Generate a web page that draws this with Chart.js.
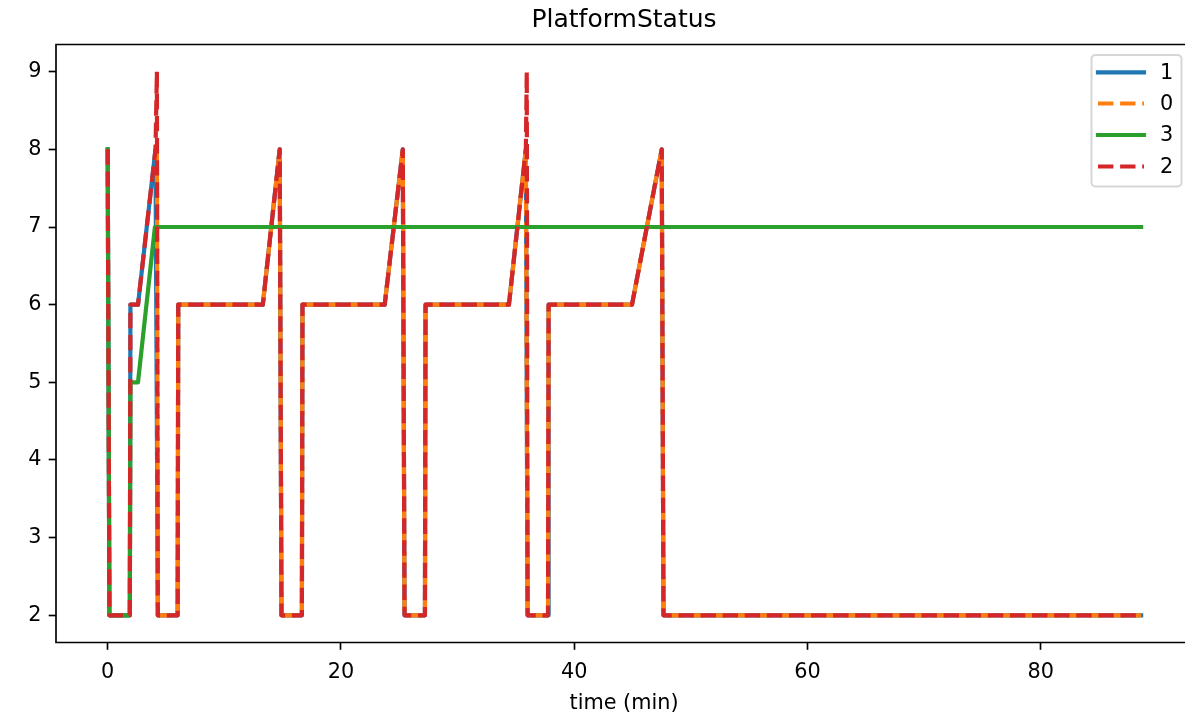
<!DOCTYPE html>
<html>
<head>
<meta charset="utf-8">
<title>PlatformStatus</title>
<script src="https://cdn.jsdelivr.net/npm/chart.js@4.4.1/dist/chart.umd.min.js"></script>
<style>
    html, body { margin: 0; padding: 0; overflow: hidden; background: #fff; }
    #wrap { width: 1185px; height: 718px; }
</style>
</head>
<body>
<div id="wrap"><canvas id="statusChart" width="1185" height="718"></canvas></div>
<script>
/* ================= DATA ================= */
const seriesNames = ['1', '0', '3', '2'];

// platform 1 (blue)
const time1 = [0, 0.15, 1.9, 1.95, 2.6, 4.1, 4.3, 6.0, 6.05, 13.3, 14.75, 14.9, 16.65, 16.7, 23.75, 25.3, 25.45, 27.2, 27.25, 34.4, 35.85, 36.0, 37.75, 37.8, 44.95, 47.5, 47.65, 88.6];
const status1 = [8, 2, 2, 6, 6, 8, 2, 2, 6, 6, 8, 2, 2, 6, 6, 8, 2, 2, 6, 6, 8, 2, 2, 6, 6, 8, 2, 2];

// platform 0 (orange)
const time0 = [4.22, 4.3, 6.0, 6.05, 13.3, 14.75, 14.9, 16.65, 16.7, 23.75, 25.3, 25.45, 27.2, 27.25, 34.4, 35.85, 36.0, 37.75, 37.8, 44.95, 47.5, 47.65, 88.6];
const status0 = [8, 2, 2, 6, 6, 8, 2, 2, 6, 6, 8, 2, 2, 6, 6, 8, 2, 2, 6, 6, 8, 2, 2];

// platform 3 (green)
const time3 = [0, 0.15, 1.9, 1.95, 2.6, 4.05, 88.6];
const status3 = [8, 2, 2, 5, 5, 7, 7];

// platform 2 (red)
const time2 = [0, 0.15, 1.9, 1.95, 2.6, 4.1, 4.22, 4.3, 6.0, 6.05, 13.3, 14.75, 14.9, 16.65, 16.7, 23.75, 25.3, 25.45, 27.2, 27.25, 34.4, 35.85, 35.93, 36.0, 37.75, 37.8, 44.95, 47.5, 47.65, 88.6];
const status2 = [8, 2, 2, 6, 6, 8, 9, 2, 2, 6, 6, 8, 2, 2, 6, 6, 8, 2, 2, 6, 6, 8, 9, 2, 2, 6, 6, 8, 2, 2];

const xTicks = [0, 20, 40, 60, 80];
const yTicks = [2, 3, 4, 5, 6, 7, 8, 9];

/* ================= STYLE ================= */
const FONT = 'DejaVu Sans';
const LW = 4.2;
const DASH = [15.4, 6.7];
const colors = ['#1f77b4', '#ff7f0e', '#2ca02c', '#d62728'];
const dashes = [[], DASH, [], DASH];

Chart.defaults.font.family = FONT;
Chart.defaults.color = '#000';

const toPoints = (t, v) => t.map((x, i) => ({ x: x, y: v[i] }));
const allSeries = [toPoints(time1, status1), toPoints(time0, status0), toPoints(time3, status3), toPoints(time2, status2)];

const datasets = allSeries.map((pts, i) => ({
    label: seriesNames[i],
    data: pts,
    borderColor: colors[i],
    backgroundColor: colors[i],
    borderWidth: LW,
    borderDash: dashes[i],
    borderCapStyle: dashes[i].length ? 'butt' : 'square',
    borderJoinStyle: 'round',
    pointRadius: 0,
    tension: 0,
    fill: false,
    order: 4 - i   // matplotlib draws later series on top
}));

/* ================= FRAME, TITLE, LEGEND ================= */
// the axes box runs past the right edge of the figure, so no right spine
const mplDecor = {
    id: 'mplDecor',
    afterDatasetsDraw(chart) {
        const { ctx, chartArea: a } = chart;
        ctx.save();
        ctx.strokeStyle = '#000';
        ctx.lineWidth = 1.67;
        ctx.beginPath();
        ctx.moveTo(chart.width + 2, a.top);
        ctx.lineTo(a.left, a.top);
        ctx.lineTo(a.left, a.bottom);
        ctx.lineTo(chart.width + 2, a.bottom);
        ctx.stroke();
        ctx.restore();
    },
    afterDraw(chart) {
        const { ctx } = chart;
        const midX = 624;
        ctx.save();
        ctx.fillStyle = '#000';
        ctx.textAlign = 'center';
        ctx.textBaseline = 'alphabetic';
        ctx.font = '25px "' + FONT + '"';
        ctx.fillText('PlatformStatus', midX, 27);
        ctx.font = '20.8px "' + FONT + '"';
        ctx.fillText('time (min)', midX, 709);

        // legend box
        const bx = 1091.5, by = 55, bw = 90, bh = 131.5, r = 4;
        ctx.beginPath();
        ctx.moveTo(bx + r, by);
        ctx.arcTo(bx + bw, by, bx + bw, by + bh, r);
        ctx.arcTo(bx + bw, by + bh, bx, by + bh, r);
        ctx.arcTo(bx, by + bh, bx, by, r);
        ctx.arcTo(bx, by, bx + bw, by, r);
        ctx.closePath();
        ctx.fillStyle = 'rgba(255,255,255,0.8)';
        ctx.fill();
        ctx.strokeStyle = 'rgba(204,204,204,0.8)';
        ctx.lineWidth = 2;
        ctx.stroke();

        const rows = [72.3, 103.5, 135, 166.5];
        datasets.forEach((ds, i) => {
            ctx.beginPath();
            ctx.setLineDash(ds.borderDash);
            ctx.lineCap = ds.borderCapStyle;
            ctx.strokeStyle = ds.borderColor;
            ctx.lineWidth = LW;
            ctx.moveTo(1098, rows[i]);
            ctx.lineTo(1144, rows[i]);
            ctx.stroke();
            ctx.setLineDash([]);
            ctx.fillStyle = '#000';
            ctx.textAlign = 'left';
            ctx.textBaseline = 'middle';
            ctx.fillText(ds.label, 1160, rows[i] + 1);
        });
        ctx.restore();
    }
};

/* ================= CHART ================= */
// 11.665 px per minute, axes left edge at x=56 (=-4.43 min)
const ctxStatus = document.getElementById('statusChart');
new Chart(ctxStatus, {
    type: 'line',
    data: { datasets: datasets },
    options: {
        responsive: false,
        animation: false,
        devicePixelRatio: 1,
        layout: { padding: { top: 44.5, right: 0, left: 0, bottom: 0 } },
        plugins: {
            legend: { display: false },
            title: { display: false },
            tooltip: { enabled: false }
        },
        scales: {
            x: {
                type: 'linear',
                min: -4.43,
                max: 92.36,
                afterFit: s => { s.height = 75.5; },
                afterBuildTicks: s => { s.ticks = xTicks.map(v => ({ value: v })); },
                grid: { drawOnChartArea: false, drawTicks: true, tickLength: 7.3, tickColor: '#000', tickWidth: 1.67 },
                border: { display: false },
                ticks: { font: { size: 20.8 }, color: '#000', padding: 10, maxRotation: 0, autoSkip: false }
            },
            y: {
                type: 'linear',
                min: 1.65,
                max: 9.35,
                afterFit: s => { s.width = 56; },
                afterBuildTicks: s => { s.ticks = yTicks.map(v => ({ value: v })); },
                grid: { drawOnChartArea: false, drawTicks: true, tickLength: 7.3, tickColor: '#000', tickWidth: 1.67 },
                border: { display: false },
                ticks: { font: { size: 20.8 }, color: '#000', padding: 7.3, autoSkip: false }
            }
        }
    },
    plugins: [mplDecor]
});
</script>
</body>
</html>
